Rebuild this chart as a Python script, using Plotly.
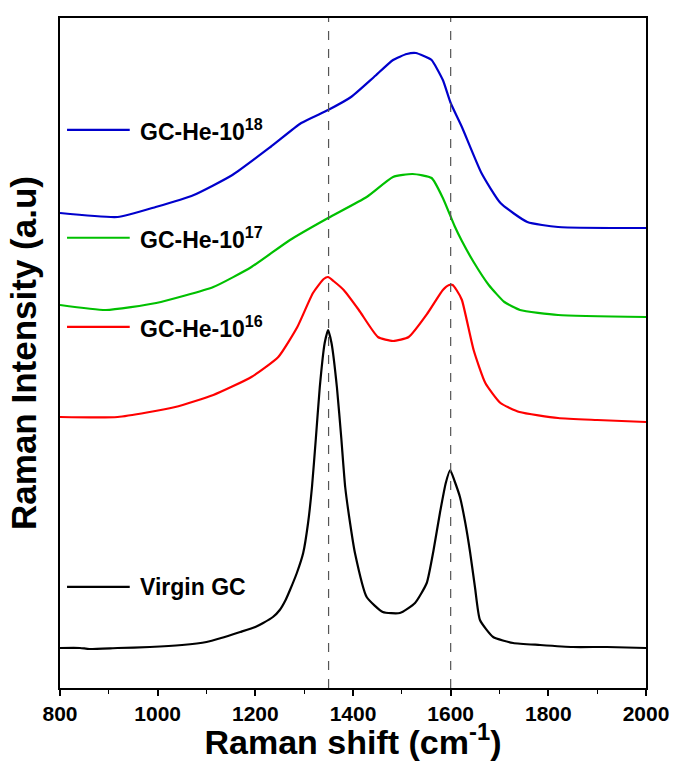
import plotly.graph_objects as go

# Raman shift (cm^-1) and intensity (a.u., arbitrary offset units)
virgin_x = [800, 841, 860, 918, 984, 1050, 1100, 1130, 1169, 1200, 1216, 1236, 1250, 1262, 1271, 1285, 1298, 1308, 1316,
            1324, 1332, 1342, 1349, 1356, 1367, 1376, 1384, 1394, 1404, 1428, 1461, 1496, 1527, 1551, 1565, 1578, 1590,
            1599, 1608, 1619, 1630, 1640, 1650, 1660, 1687, 1728, 1783, 1850, 1920, 2000]
virgin_y = [40, 40, 39, 40, 41, 43, 46, 50, 56, 61, 65, 71, 78, 88, 98, 115, 135, 165, 201,
            250, 301, 345, 358, 345, 301, 250, 201, 165, 135, 91, 76, 75, 85, 105, 138, 175, 205,
            218, 207, 191, 165, 135, 100, 68, 51, 45, 43, 41, 41, 40]

he16_x = [800, 918, 1036, 1114, 1192, 1247, 1286, 1318, 1340, 1349, 1360, 1381, 1412, 1451, 1482, 1514, 1553, 1584,
          1597, 1604, 1612, 1623, 1647, 1671, 1702, 1741, 1820, 1900, 2000]
he16_y = [271, 271, 281, 293, 311, 331, 361, 395, 409, 411, 407, 398, 378, 351, 347, 351, 375, 398,
          403, 403, 398, 388, 338, 305, 285, 276, 270, 268, 266]

he17_x = [800, 894, 997, 1114, 1192, 1271, 1349, 1428, 1482, 1522, 1561, 1584, 1608, 1623, 1647, 1678, 1710, 1742,
          1820, 2000]
he17_y = [383, 378, 385, 401, 421, 448, 470, 491, 511, 514, 510, 490, 462, 447, 426, 403, 386, 378,
          373, 371]

he18_x = [800, 918, 996, 1074, 1153, 1231, 1294, 1349, 1396, 1443, 1482, 1510, 1529, 1545, 1561, 1584, 1600, 1623, 1663,
          1702, 1757, 1820, 2000]
he18_y = [475, 471, 481, 493, 513, 541, 565, 578, 591, 611, 628, 634, 635, 632, 628, 608, 585, 561, 515,
          485, 466, 461, 460]

series = [
    ("Virgin GC", virgin_x, virgin_y, "#000000"),
    ("GC-He-10<sup>16</sup>", he16_x, he16_y, "#ff0000"),
    ("GC-He-10<sup>17</sup>", he17_x, he17_y, "#00c000"),
    ("GC-He-10<sup>18</sup>", he18_x, he18_y, "#0000cc"),
]

peak_lines = [1350, 1600]
x_ticks = [800, 1000, 1200, 1400, 1600, 1800, 2000]

# legend sample positions (paper coords) for each series
legend_y = [0.151, 0.539, 0.672, 0.833]

FONT = "Arial, Liberation Sans"

fig = go.Figure()
for name, xs, ys, col in series:
    fig.add_trace(go.Scatter(x=xs, y=ys, mode="lines", name=name,
                             line=dict(color=col, width=2.2, shape="spline", smoothing=0.5),
                             showlegend=False))

for xv in peak_lines:
    fig.add_shape(type="line", xref="x", yref="paper", x0=xv, x1=xv, y0=0, y1=1,
                  line=dict(color="#555555", width=1.2, dash="dash"))

for (name, xs, ys, col), ly in zip(series, legend_y):
    fig.add_shape(type="line", xref="paper", yref="paper", x0=0.012, x1=0.119, y0=ly, y1=ly,
                  line=dict(color=col, width=2.2))
    fig.add_annotation(xref="paper", yref="paper", x=0.133, y=ly, text="<b>" + name + "</b>", showarrow=False,
                       xanchor="left", yanchor="middle",
                       font=dict(family=FONT, size=23, color="black"))

fig.update_layout(
    width=673, height=761,
    margin=dict(l=60, r=27, t=18, b=73),
    plot_bgcolor="white", paper_bgcolor="white",
    font=dict(family=FONT, color="black"),
    xaxis=dict(range=[800, 2000], tickvals=x_ticks, ticktext=["<b>%d</b>" % v for v in x_ticks],
               automargin=False,
               ticks="outside", ticklen=6, tickwidth=1.5, tickcolor="black",
               showline=True, linecolor="black", linewidth=1.5, mirror=True, showgrid=False, zeroline=False,
               tickfont=dict(size=21, family=FONT),
               minor=dict(ticks="outside", dtick=100, ticklen=4, tickwidth=1.2, tickcolor="black"),
               title=dict(text="<b>Raman shift (cm<sup>-1</sup>)</b>", standoff=7,
                          font=dict(size=34, family=FONT))),
    yaxis=dict(range=[0, 670], showticklabels=False, ticks="", showline=True, linecolor="black",
               automargin=False,
               linewidth=1.5, mirror=True, showgrid=False, zeroline=False,
               title=dict(text="<b>Raman Intensity (a.u)</b>", standoff=11,
                          font=dict(size=35, family=FONT))),
)

fig.write_html("out.html")
